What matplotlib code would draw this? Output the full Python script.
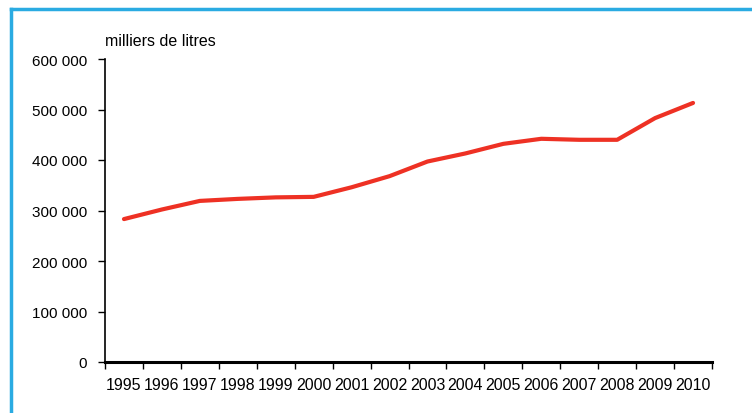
import matplotlib.pyplot as plt
from matplotlib.lines import Line2D
from matplotlib.ticker import FuncFormatter
import numpy as np

plt.rcParams['font.family'] = ['Liberation Sans', 'DejaVu Sans']

# Data
years = ['1995', '1996', '1997', '1998', '1999', '2000', '2001', '2002',
         '2003', '2004', '2005', '2006', '2007', '2008', '2009', '2010']
volume = [283000, 302000, 319000, 323000, 326000, 327000, 346000, 368000,
          397000, 413000, 432000, 442000, 440000, 440000, 483000, 513000]
y_ticks = [0, 100000, 200000, 300000, 400000, 500000, 600000]

fig = plt.figure(figsize=(7.52, 4.14), dpi=100)
ax = fig.add_axes([105/752, 1 - 363/414, 607/752, 303/414])

x = np.arange(len(years))
ax.plot(x, volume, color='#EE3124', linewidth=3, solid_capstyle='round')

ax.set_xlim(-0.5, len(years) - 0.5)
ax.set_ylim(0, 600000)

# category boundaries get tick marks, labels sit at centres
ax.set_xticks(np.arange(len(years) + 1) - 0.5)
ax.set_xticklabels([])
ax.set_xticks(x, minor=True)
ax.set_xticklabels(years, minor=True, fontsize=11.5)
ax.tick_params(axis='x', which='major', direction='out', length=5, width=1)
ax.tick_params(axis='x', which='minor', length=0, pad=11)

ax.set_yticks(y_ticks)
ax.yaxis.set_major_formatter(FuncFormatter(lambda v, p: f'{int(v):,}'.replace(',', ' ')))
ax.tick_params(axis='y', direction='out', length=5, width=1, labelsize=11, pad=8)

for s in ['top', 'right']:
    ax.spines[s].set_visible(False)
ax.spines['left'].set_linewidth(1.2)
ax.spines['bottom'].set_linewidth(2.2)

fig.text(105/752, 1 - 41/414, 'milliers de litres', fontsize=11.5, va='center', ha='left')

# blue frame (top and left edges visible)
frame = '#2AABE2'
fig.add_artist(Line2D([11/752, 1.0], [1 - 10/414, 1 - 10/414], color=frame, linewidth=2.5,
                      transform=fig.transFigure))
fig.add_artist(Line2D([11/752, 11/752], [0.0, 1 - 10/414], color=frame, linewidth=2.5,
                      transform=fig.transFigure))

plt.savefig('out.png', dpi=100)
plt.close()
